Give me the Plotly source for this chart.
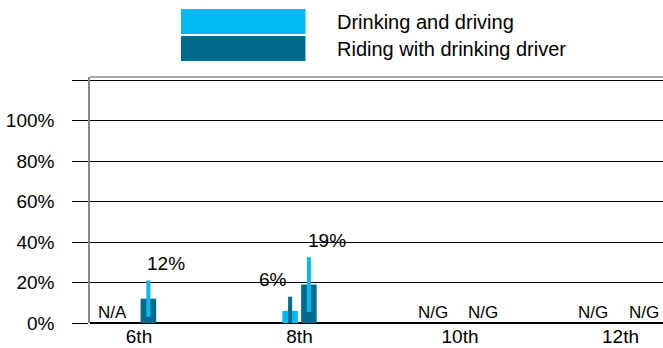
import plotly.graph_objects as go

# Grades and the two survey measures (percent of students)
grades = ["6th", "8th", "10th", "12th"]
drink_drive = [None, 6, None, None]
ride_drinker = [12, 19, None, None]
drink_drive_err = [None, 7, None, None]
ride_drinker_err = [9, 13.5, None, None]
drink_drive_text = ["N/A", "6%", "N/G", "N/G"]
ride_drinker_text = ["12%", "19%", "N/G", "N/G"]
y_ticks = [0, 20, 40, 60, 80, 100, 120]
y_tick_text = ["0%", "20%", "40%", "60%", "80%", "100%", ""]

LIGHT = "#00BAF2"
DARK = "#006A8E"
FONT = "Liberation Sans, Arial, sans-serif"

BAR_W = 0.097
OFF_LIGHT = -0.107
OFF_DARK = 0.010
xs = list(range(len(grades)))

fig = go.Figure()
fig.add_trace(go.Bar(
    x=xs, y=drink_drive, width=BAR_W, offset=OFF_LIGHT,
    marker=dict(color=LIGHT, line=dict(width=0)),
    error_y=dict(type="data", array=drink_drive_err, symmetric=True,
                 color=DARK, thickness=4, width=0),
    name="Drinking and driving", showlegend=False,
))
fig.add_trace(go.Bar(
    x=xs, y=ride_drinker, width=BAR_W, offset=OFF_DARK,
    marker=dict(color=DARK, line=dict(width=0)),
    error_y=dict(type="data", array=ride_drinker_err, symmetric=True,
                 color=LIGHT, thickness=4, width=0),
    name="Riding with drinking driver", showlegend=False,
))


def label_font(has_value):
    # Percent labels are a touch larger than the N/A, N/G placeholders
    return dict(family=FONT, size=19 if has_value else 17, color="black")


# Value labels: light-series labels sit left of the pair, dark-series labels to the right
annotations = []
for i, (v, e, t) in enumerate(zip(drink_drive, drink_drive_err, drink_drive_text)):
    top = (v or 0) + (e or 0)
    annotations.append(dict(
        x=i + OFF_LIGHT + BAR_W / 2, y=top, xref="x", yref="y", text=t,
        showarrow=False, xanchor="right", yanchor="middle",
        xshift=-1, yshift=17 if v is not None else 11,
        font=label_font(v is not None),
    ))
for i, (v, e, t) in enumerate(zip(ride_drinker, ride_drinker_err, ride_drinker_text)):
    top = (v or 0) + (e or 0)
    annotations.append(dict(
        x=i + OFF_DARK + BAR_W / 2, y=top, xref="x", yref="y", text=t,
        showarrow=False, xanchor="left", yanchor="middle",
        xshift=-3, yshift=17 if v is not None else 11,
        font=label_font(v is not None),
    ))

# Legend block above the plot: wide colour swatches with labels
legend_items = [("Drinking and driving", LIGHT, 1.2764, 1.1748),
                ("Riding with drinking driver", DARK, 1.1667, 1.0650)]
shapes = []
for label, color, y1, y0 in legend_items:
    shapes.append(dict(type="rect", xref="paper", yref="paper",
                       x0=0.1588, x1=0.3760, y0=y0, y1=y1,
                       fillcolor=color, line=dict(width=0), layer="above"))
    annotations.append(dict(
        x=0.4270, y=(y0 + y1) / 2 - 0.002, xref="paper", yref="paper", text=label,
        showarrow=False, xanchor="left", yanchor="middle",
        font=dict(family=FONT, size=20, color="black"),
    ))

# Top edge of the plot frame
shapes.append(dict(type="line", xref="paper", yref="paper", x0=0, x1=1, y0=1, y1=1,
                   line=dict(color="#888888", width=1.5)))

fig.update_layout(
    width=663, height=348,
    margin=dict(l=90, r=0, t=77, b=25),
    paper_bgcolor="white", plot_bgcolor="white",
    barmode="overlay",
    showlegend=False,
    shapes=shapes,
    annotations=annotations,
    font=dict(family=FONT, size=19, color="black"),
    xaxis=dict(
        range=[-0.3053, 3.2648], tickvals=xs, ticktext=grades,
        showgrid=False, zeroline=False, showline=False, ticks="",
        tickfont=dict(family=FONT, size=19, color="black"),
        fixedrange=True,
    ),
    yaxis=dict(
        range=[0, 121.5], tickvals=y_ticks, ticktext=y_tick_text,
        showgrid=True, gridcolor="black", gridwidth=1,
        zeroline=True, zerolinecolor="black", zerolinewidth=1.5,
        showline=True, linecolor="#888888", linewidth=1.5,
        ticks="outside", ticklen=16, tickcolor="black", tickwidth=1,
        ticklabelstandoff=14,
        tickfont=dict(family=FONT, size=19, color="black"),
        fixedrange=True,
    ),
)

fig.write_html("out.html")
